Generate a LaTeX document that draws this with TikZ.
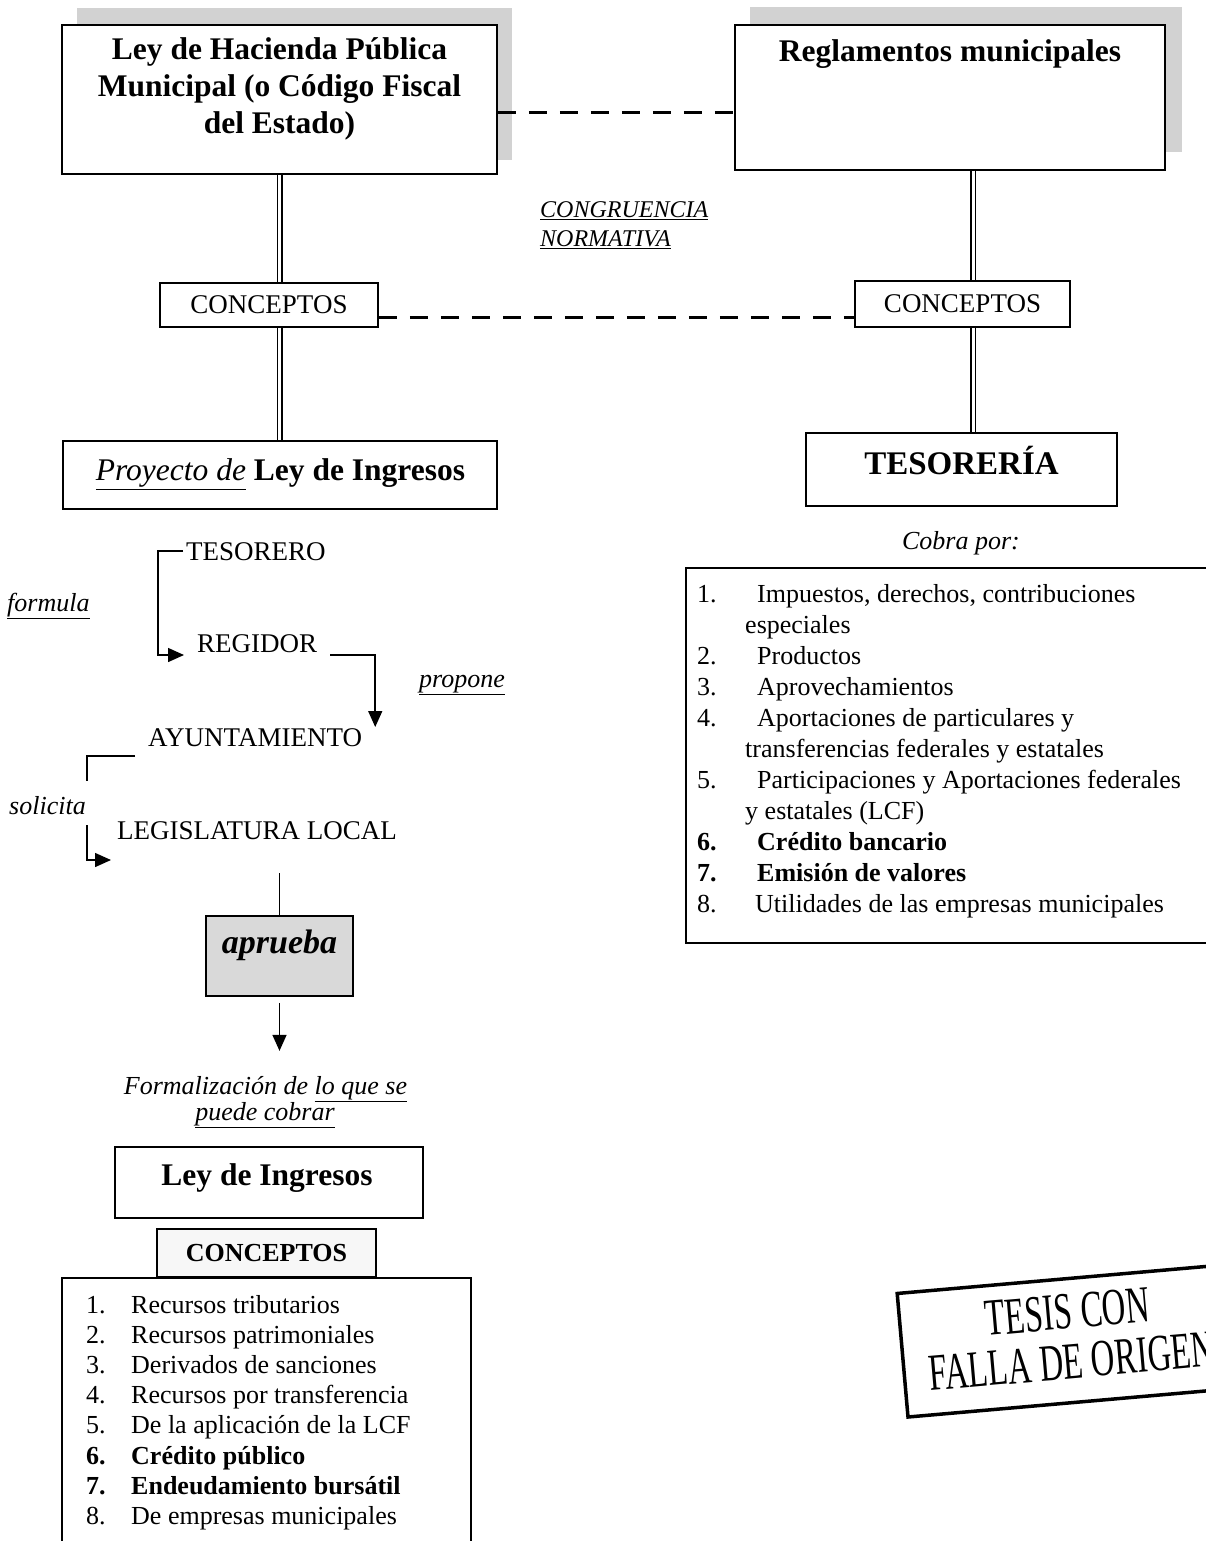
\documentclass[tikz,border=0pt]{standalone}
\usepackage{fontspec}
\setmainfont{Liberation Serif}
\usetikzlibrary{arrows.meta,calc}

% type sizes (1pt of type = 1 unit of the drawing grid)
\newcommand\sizeTitle{\fontsize{31.5pt}{37pt}\selectfont}
\newcommand\sizeTes{\fontsize{33pt}{38pt}\selectfont}
\newcommand\sizeText{\fontsize{27pt}{31pt}\selectfont}
\newcommand\sizeList{\fontsize{26pt}{30pt}\selectfont}
\newcommand\sizeNote{\fontsize{24pt}{28pt}\selectfont}
\newcommand\sizeStamp{\fontsize{52pt}{50pt}\selectfont}

\begin{document}
\begin{tikzpicture}[x=1pt,y=-1pt,
  frame/.style={draw, line width=1.7pt, fill=white, inner sep=0pt},
  shade/.style={fill=gray!35, draw=none},
  lbl/.style={inner sep=0pt, anchor=base},
  item/.style={inner sep=0pt, anchor=base west, font=\sizeList},
  dbl/.style={double, double distance=3pt, line width=1.5pt},
  congr/.style={line width=3pt, dash pattern=on 18pt off 13pt},
  flow/.style={line width=1.5pt},
  tip/.style={-{Triangle[length=16pt,width=14pt]}},
]
\useasboundingbox (0,0) rectangle (1206,1541);
\clip (0,0) rectangle (1206,1541);

% ---------- top left: Ley de Hacienda ----------
\fill[shade] (77,8) rectangle (512,160);
\node[frame, minimum width=435pt, minimum height=149pt] (lhp) at (279.5,99.5) {};
\node[inner sep=0pt, font=\sizeTitle\bfseries, align=center] (lhpT) at (279.5,89)
  {Ley de Hacienda Pública\\Municipal (o Código Fiscal\\del Estado)};

% ---------- top right: Reglamentos ----------
\fill[shade] (750,7) rectangle (1182,152);
\node[frame, minimum width=430pt, minimum height=145pt] (reg) at (950,97.5) {};
\node[lbl, font=\sizeTitle\bfseries] (regT) at (950,62) {Reglamentos municipales};

\draw[congr] ([yshift=-13.5pt]lhp.east) -- ([yshift=-15.5pt]reg.west);

% ---------- CONCEPTOS row ----------
\node[frame, minimum width=218pt, minimum height=44pt, font=\sizeText] (c1) at (269,305) {CONCEPTOS};
\node[frame, minimum width=215pt, minimum height=46pt, font=\sizeText] (c2) at (962.5,304) {CONCEPTOS};
\draw[congr] ([yshift=-12pt]c1.east) -- ([yshift=-13pt]c2.west);

\node[lbl, anchor=base west, font=\sizeNote\itshape] (cong) at (540,218) {\underline{CONGRUENCIA}};
\node[lbl, anchor=base west, font=\sizeNote\itshape] (norm) at (540,246) {\underline{NORMATIVA}};

% ---------- Proyecto / Tesoreria ----------
\node[frame, minimum width=434pt, minimum height=68pt] (proy) at (280,475) {};
\node[lbl, font=\sizeTitle] (proyT) at (280.5,480.5)
  {\underline{\textit{Proyecto de}} \textbf{Ley de Ingresos}};

\node[frame, minimum width=311pt, minimum height=73pt] (tes) at (961.5,469.5) {};
\node[lbl, font=\sizeTes\bfseries] (tesT) at (961.5,474) {TESORERÍA};

\coordinate (rx) at (973,0);
\draw[dbl] (lhp.south) -- (lhp.south |- c1.north);
\draw[dbl] (lhp.south |- c1.south) -- (lhp.south |- proy.north);
\draw[dbl] (reg.south -| rx) -- (c2.north -| rx);
\draw[dbl] (c2.south -| rx) -- (tes.north -| rx);

% ---------- Cobra por ----------
\node[lbl, font=\sizeList\itshape] (cobra) at (961,549) {Cobra por:};
\node[frame, minimum width=534pt, minimum height=375pt] (cobro) at (953,755.5) {};
\node[item] (r1n) at (697,602) {1.};
\node[item] (r1)  at (757,602) {Impuestos, derechos, contribuciones};
\node[item] (r1b) at (745,633) {especiales};
\node[item] (r2n) at (697,664) {2.};
\node[item] (r2)  at (757,664) {Productos};
\node[item] (r3n) at (697,695) {3.};
\node[item] (r3)  at (757,695) {Aprovechamientos};
\node[item] (r4n) at (697,726) {4.};
\node[item] (r4)  at (757,726) {Aportaciones de particulares y};
\node[item] (r4b) at (745,757) {transferencias federales y estatales};
\node[item] (r5n) at (697,788) {5.};
\node[item] (r5)  at (757,788) {Participaciones y Aportaciones federales};
\node[item] (r5b) at (745,819) {y estatales (LCF)};
\node[item, font=\sizeList\bfseries] (r6n) at (697,850) {6.};
\node[item, font=\sizeList\bfseries] (r6)  at (757,850) {Crédito bancario};
\node[item, font=\sizeList\bfseries] (r7n) at (697,881) {7.};
\node[item, font=\sizeList\bfseries] (r7)  at (757,881) {Emisión de valores};
\node[item] (r8n) at (697,912) {8.};
\node[item] (r8)  at (755,912) {Utilidades de las empresas municipales};

% ---------- approval flow ----------
\node[lbl, anchor=base west, font=\sizeText] (tesorero) at (186,560) {TESORERO};
\node[lbl, anchor=base west, font=\sizeText] (regidor) at (197,652) {REGIDOR};
\node[lbl, anchor=base west, font=\sizeText] (ayunt) at (148,746) {AYUNTAMIENTO};
\node[lbl, anchor=base west, font=\sizeText] (legis) at (117,839) {LEGISLATURA LOCAL};

\node[lbl, anchor=base west, font=\sizeList\itshape] (formula) at (7,611) {\underline{formula}};
\node[lbl, anchor=base west, font=\sizeList\itshape] (propone) at (419,687) {\underline{propone}};
\node[lbl, anchor=base west, font=\sizeList\itshape] (solicita) at (9,814) {solicita};

\draw[flow, tip] ([shift={(-3pt,9pt)}]tesorero.base west) -- ++(-25pt,0pt)
  |- ([shift={(-13pt,-3pt)}]regidor.base west);
\coordinate (ayIn) at ([shift={(13pt,19pt)}]ayunt.base east);
\draw[flow, tip] ([shift={(13pt,-3pt)}]regidor.base east) -| (ayIn);
\coordinate (solTop) at (87,781);
\coordinate (solBot) at (87,825);
\draw[flow] ([shift={(-13pt,-10pt)}]ayunt.base west) -| (solTop);
\draw[flow, tip] (solBot) |- ([shift={(-6pt,-21pt)}]legis.base west);

% ---------- aprueba ----------
\node[frame, fill=gray!30, minimum width=147pt, minimum height=80pt] (apr) at (279.5,956) {};
\node[lbl, font=\fontsize{34pt}{38pt}\selectfont\bfseries\itshape] (aprT) at (279.5,953) {aprueba};
\draw[flow] ([yshift=-34pt]legis.base -| apr.north) -- (apr.north);
\draw[flow, tip] ([yshift=-6pt]apr.south) -- ++(0pt,-48pt);

\node[lbl, font=\sizeList\itshape] (form1) at (265.5,1094) {Formalización de \underline{lo que se}};
\node[lbl, font=\sizeList\itshape] (form2) at (265,1120) {\underline{puede cobrar}};

% ---------- Ley de Ingresos ----------
\node[frame, minimum width=308pt, minimum height=71pt] (li) at (269,1182.5) {};
\node[lbl, font=\sizeTitle\bfseries] (liT) at (267,1185) {Ley de Ingresos};

\node[frame, minimum width=409pt, minimum height=282pt] (conc) at (266.5,1419) {};
\node[frame, fill=gray!6, minimum width=219pt, minimum height=48pt, font=\sizeList\bfseries] (c3) at (266.5,1253) {CONCEPTOS};

\node[item] (b1n) at (86,1313) {1.};
\node[item] (b1)  at (131,1313) {Recursos tributarios};
\node[item] (b2n) at (86,1343.2) {2.};
\node[item] (b2)  at (131,1343.2) {Recursos patrimoniales};
\node[item] (b3n) at (86,1373.4) {3.};
\node[item] (b3)  at (131,1373.4) {Derivados de sanciones};
\node[item] (b4n) at (86,1403.6) {4.};
\node[item] (b4)  at (131,1403.6) {Recursos por transferencia};
\node[item] (b5n) at (86,1433.8) {5.};
\node[item] (b5)  at (131,1433.8) {De la aplicación de la LCF};
\node[item, font=\sizeList\bfseries] (b6n) at (86,1464) {6.};
\node[item, font=\sizeList\bfseries] (b6)  at (131,1464) {Crédito público};
\node[item, font=\sizeList\bfseries] (b7n) at (86,1494.2) {7.};
\node[item, font=\sizeList\bfseries] (b7)  at (131,1494.2) {Endeudamiento bursátil};
\node[item] (b8n) at (86,1524.4) {8.};
\node[item] (b8)  at (131,1524.4) {De empresas municipales};

% ---------- rubber stamp (runs off the right edge) ----------
\begin{scope}[shift={(908,1417)}, rotate=5]
  \draw[line width=3.5pt] (0,0) rectangle (340,-124);
  \node[transform shape, inner sep=0pt, xscale=0.63, align=center, font=\sizeStamp] (stamp)
    at (168,-66) {TESIS CON\\FALLA DE ORIGEN};
\end{scope}
\end{tikzpicture}
\end{document}
